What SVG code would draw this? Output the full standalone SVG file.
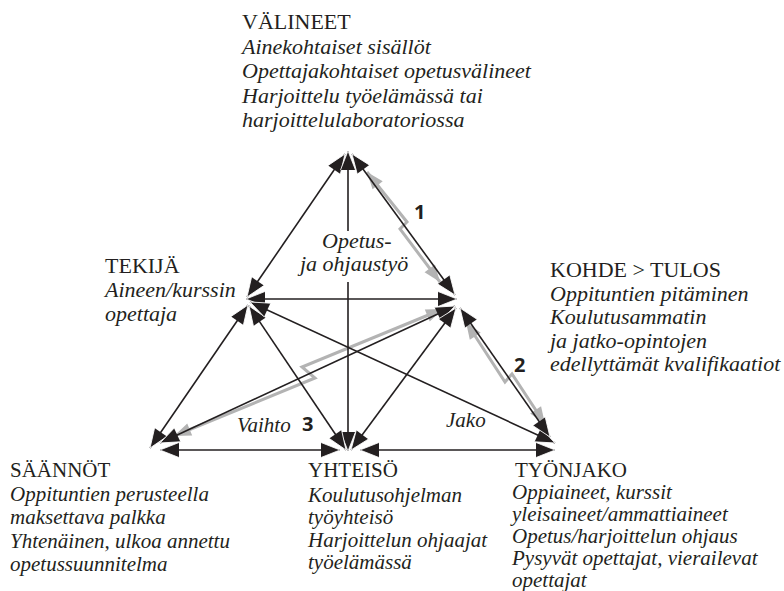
<svg xmlns="http://www.w3.org/2000/svg" width="784" height="591" viewBox="0 0 784 591">
  <style>
    text { font-family: "Liberation Serif", "Times New Roman", serif; fill: #231f20; }
    .big { font-size: 22px; }
    .sm { font-size: 21px; }
    .i { font-style: italic; }
    .num { font-family: "Open Sans", "Liberation Sans", sans-serif; font-weight: bold; font-size: 20px; }
    .ln { stroke: #231f20; stroke-width: 1.6; fill: none; marker-start: url(#ah); marker-end: url(#ah); }
    .ln1 { stroke: #231f20; stroke-width: 1.6; fill: none; }
    .zz { stroke: #b3b3b3; stroke-width: 3; fill: none; stroke-linejoin: miter; marker-start: url(#gh); marker-end: url(#gh); }
  </style>
  <defs>
    <!-- solid black head with a thin white rim so crowded heads stay apart -->
    <marker id="ah" markerUnits="userSpaceOnUse" markerWidth="22" markerHeight="17" refX="19" refY="7.5" orient="auto-start-reverse" overflow="visible">
      <path d="M0,0 L19,7.5 L0,15 Z" fill="#231f20"/>
      <path d="M0,0 L19,7.5 L0,15" fill="none" stroke="#fff" stroke-width="0.8" stroke-linejoin="round"/>
    </marker>
    <marker id="gh" markerUnits="userSpaceOnUse" markerWidth="20" markerHeight="15" refX="17" refY="6.5" orient="auto-start-reverse" overflow="visible">
      <path d="M0,0 L17,6.5 L0,13 Z" fill="#b3b3b3"/>
    </marker>
  </defs>

  <!-- connectors -->
  <g id="connectors">
    <!-- contradiction bolts (grey, double-headed, with a kink) -->
    <polyline class="zz" points="367,172 407,222 400,229 440,282"/>
    <polyline class="zz" points="466,322 505,382 512,374 545,424"/>
    <polyline class="zz" points="443,309 302,367 315,378 174,436"/>

    <!-- relations between the six corners -->
    <line class="ln" x1="247" y1="297" x2="345" y2="154"/>
    <line class="ln" x1="352" y1="154" x2="455" y2="295"/>
    <line class="ln1" x1="348" y1="151" x2="348" y2="231" marker-start="url(#ah)"/>
    <line class="ln1" x1="348" y1="282" x2="348" y2="451" marker-end="url(#ah)"/>
    <line class="ln" x1="246" y1="299" x2="457" y2="299"/>
    <line class="ln" x1="248" y1="305" x2="150" y2="448"/>
    <line class="ln" x1="249" y1="306" x2="346" y2="450"/>
    <line class="ln" x1="250" y1="302" x2="555" y2="443"/>
    <line class="ln" x1="455" y1="306" x2="160" y2="443"/>
    <line class="ln" x1="456" y1="308" x2="351" y2="450"/>
    <line class="ln" x1="460" y1="308" x2="550" y2="437"/>
    <line class="ln" x1="160" y1="450" x2="340" y2="450"/>
    <line class="ln" x1="360" y1="450" x2="555" y2="450"/>
  </g>

  <!-- edge labels -->
  <g id="edge-labels">
    <text class="big i" x="322" y="248">Opetus-</text>
    <text class="big i" x="300" y="271">ja ohjaustyö</text>
    <text class="sm i" x="237" y="432">Vaihto</text>
    <text class="sm i" x="446" y="427">Jako</text>
    <text class="num" x="414" y="219">1</text>
    <text class="num" x="514" y="372">2</text>
    <text class="num" x="302" y="431">3</text>
  </g>

  <g id="valineet" class="big">
    <text x="242" y="29">VÄLINEET</text>
    <text class="i" x="242" y="54">Ainekohtaiset sisällöt</text>
    <text class="i" x="242" y="78">Opettajakohtaiset opetusvälineet</text>
    <text class="i" x="242" y="103">Harjoittelu työelämässä tai</text>
    <text class="i" x="242" y="127">harjoittelulaboratoriossa</text>
  </g>

  <g id="tekija" class="big">
    <text x="105" y="273">TEKIJÄ</text>
    <text class="i" x="105" y="297">Aineen/kurssin</text>
    <text class="i" x="105" y="321">opettaja</text>
  </g>

  <g id="kohde" class="big">
    <text x="550" y="277">KOHDE &gt; TULOS</text>
    <text class="i" x="550" y="301">Oppituntien pitäminen</text>
    <text class="i" x="550" y="324">Koulutusammatin</text>
    <text class="i" x="550" y="348">ja jatko-opintojen</text>
    <text class="i" x="550" y="371">edellyttämät kvalifikaatiot</text>
  </g>

  <g id="saannot" class="sm">
    <text x="10" y="477">SÄÄNNÖT</text>
    <text class="i" x="10" y="501">Oppituntien perusteella</text>
    <text class="i" x="10" y="524">maksettava palkka</text>
    <text class="i" x="10" y="548">Yhtenäinen, ulkoa annettu</text>
    <text class="i" x="10" y="571">opetussuunnitelma</text>
  </g>

  <g id="yhteiso" class="sm">
    <text x="308" y="477">YHTEISÖ</text>
    <text class="i" x="308" y="502">Koulutusohjelman</text>
    <text class="i" x="308" y="524">työyhteisö</text>
    <text class="i" x="308" y="547">Harjoittelun ohjaajat</text>
    <text class="i" x="308" y="569">työelämässä</text>
  </g>

  <g id="tyonjako" class="sm">
    <text x="515" y="477">TYÖNJAKO</text>
    <text class="i" x="512" y="499">Oppiaineet, kurssit</text>
    <text class="i" x="512" y="521">yleisaineet/ammattiaineet</text>
    <text class="i" x="512" y="543">Opetus/harjoittelun ohjaus</text>
    <text class="i" x="512" y="565">Pysyvät opettajat, vierailevat</text>
    <text class="i" x="512" y="587">opettajat</text>
  </g>
</svg>
